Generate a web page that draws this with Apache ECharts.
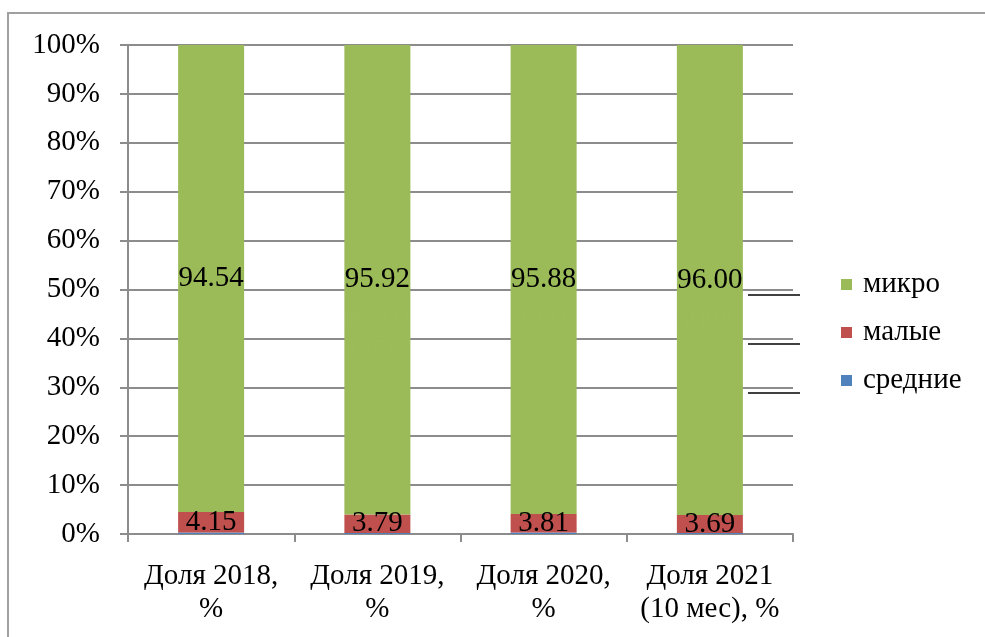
<!DOCTYPE html>
<html>
<head>
<meta charset="utf-8">
<script src="https://cdn.jsdelivr.net/npm/echarts@6/dist/echarts.min.js"></script>
<style>html,body{margin:0;padding:0;background:#fff}#c{width:985px;height:637px}
#pre{position:absolute;left:300px;top:300px;font:29px 'Liberation Serif';color:#fff;opacity:0.01;pointer-events:none}</style>
</head>
<body>
<div id="c"></div>
<div id="pre">Доля 2018 % микро малые средние (10 мес) 0123456789.</div>
<script>
var categories = ['Доля 2018,\n%', 'Доля 2019,\n%', 'Доля 2020,\n%', 'Доля 2021\n(10 мес), %'];
var srednie = [0.3, 0.2, 0.3, 0.2];
var malye = [4.15, 3.79, 3.81, 3.69];
var mikro = [94.54, 95.92, 95.88, 96.00];
var yTicks = [0, 10, 20, 30, 40, 50, 60, 70, 80, 90, 100];

var totals = categories.map(function (_, i) { return srednie[i] + malye[i] + mikro[i]; });
function pct(arr) { return arr.map(function (v, i) { return { value: v / totals[i] * 100, raw: v }; }); }

var FONT = "'Liberation Serif', serif";
var FS = 29;
var grey = '#8c8c8c';

// warm up the serif font for canvas text
try {
  var wc = document.createElement('canvas').getContext('2d');
  wc.font = FS + "px 'Liberation Serif', serif";
  wc.measureText('Доля 2018 % микро малые средние 0123456789');
  wc.fillText('Доля 2018 % микро малые средние 0123456789', 0, 20);
} catch (e) {}

function draw() {
  var chart = echarts.init(document.getElementById('c'), null, { renderer: 'canvas' });
  var labelCfg = {
    show: true, position: 'inside', color: '#000', fontFamily: FONT, fontSize: FS,
    formatter: function (p) { return p.data.raw.toFixed(2); }
  };
  chart.setOption({
    animation: false,
    backgroundColor: '#fff',
    textStyle: { fontFamily: FONT },
    grid: { left: 128, right: 192, top: 45, bottom: 103, containLabel: false },
    legend: {
      orient: 'vertical', left: 836, top: 265,
      data: ['микро', 'малые', 'средние'],
      icon: 'rect', itemWidth: 11, itemHeight: 11, itemGap: 19,
      textStyle: { fontFamily: FONT, fontSize: FS, color: '#000', padding: [0, 0, 0, 6] }
    },
    xAxis: {
      type: 'category', data: categories,
      axisLine: { lineStyle: { color: grey, width: 2 } },
      axisTick: { show: true, length: 8, lineStyle: { color: grey, width: 2 } },
      axisLabel: { color: '#000', fontFamily: FONT, fontSize: FS, lineHeight: 33, margin: 26, interval: 0 }
    },
    yAxis: {
      type: 'value', min: yTicks[0], max: yTicks[yTicks.length - 1], interval: 10,
      axisLine: { show: true, lineStyle: { color: grey, width: 2 } },
      axisTick: { show: true, length: 8, lineStyle: { color: grey, width: 2 } },
      splitLine: { show: true, lineStyle: { color: grey, width: 2 } },
      axisLabel: { color: '#000', fontFamily: FONT, fontSize: FS, margin: 28, formatter: '{value}%' }
    },
    series: [
      { name: 'средние', type: 'bar', stack: 's', data: pct(srednie), barWidth: 66,
        itemStyle: { color: '#4f81bd' }, label: { show: false } },
      { name: 'малые', type: 'bar', stack: 's', data: pct(malye),
        itemStyle: { color: '#c0504d' }, label: labelCfg },
      { name: 'микро', type: 'bar', stack: 's', data: pct(mikro),
        itemStyle: { color: '#9bbb59' }, label: labelCfg }
    ],
    graphic: [
      { type: 'rect', shape: { x: 8, y: 13, width: 1100, height: 700 }, style: { fill: 'none', stroke: '#a0a0a0', lineWidth: 2 }, silent: true },
      { type: 'line', shape: { x1: 748, y1: 295, x2: 800, y2: 295 }, style: { stroke: '#000', lineWidth: 1.5 } },
      { type: 'line', shape: { x1: 748, y1: 344, x2: 800, y2: 344 }, style: { stroke: '#000', lineWidth: 1.5 } },
      { type: 'line', shape: { x1: 748, y1: 393, x2: 800, y2: 393 }, style: { stroke: '#000', lineWidth: 1.5 } }
    ]
  });
  try { chart.getZr().storage.getDisplayList(true); } catch (e) {}
}
draw();
</script>
</body>
</html>
